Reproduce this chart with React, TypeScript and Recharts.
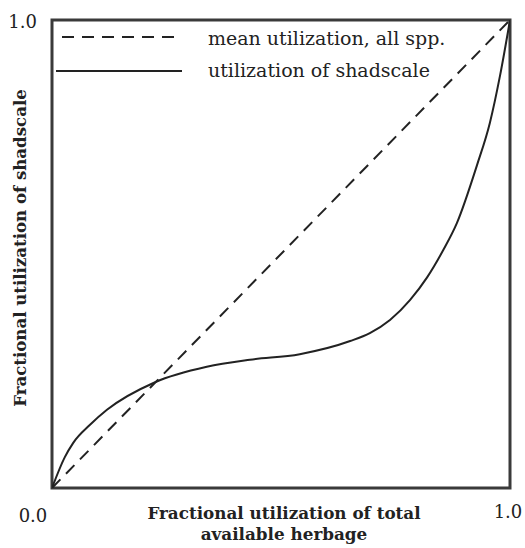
import { LineChart, Line, XAxis, YAxis, ReferenceArea, Legend, Label } from "recharts";

// fraction of total herbage used (x) vs fraction of shadscale used (y)
const herbage = [0, 0.028, 0.046, 0.083, 0.12, 0.225, 0.338, 0.432, 0.541, 0.651, 0.694, 0.738, 0.782, 0.819, 0.854, 0.884, 0.928, 0.956, 0.978, 1];
const shadscale = [0, 0.066, 0.096, 0.135, 0.167, 0.226, 0.259, 0.274, 0.286, 0.314, 0.331, 0.359, 0.402, 0.45, 0.508, 0.566, 0.69, 0.78, 0.88, 1];
const meanX = [0, 1];
const meanY = [0, 1];
const xTicks = [0, 1];
const yTicks = [1];
const legendLabels = ["mean utilization, all spp.", "utilization of shadscale"];

const shadData = herbage.map((x, i) => ({ x, y: shadscale[i] }));
const meanData = meanX.map((x, i) => ({ x, y: meanY[i] }));

const FONT = "'DejaVu Serif', serif";
const INK = "#222";

const XTick = (props: any) => {
  const { x, y, payload } = props;
  const first = payload.value === 0;
  return (
    <text x={first ? x - 19 : x - 2} y={first ? y + 26 : y + 22} textAnchor="middle" fontFamily={FONT} fontSize={18} fill={INK}>
      {payload.value.toFixed(1)}
    </text>
  );
};

const YTick = (props: any) => {
  const { x, y, payload } = props;
  return (
    <text x={x - 7} y={y + 8} textAnchor="end" fontFamily={FONT} fontSize={18} fill={INK}>
      {payload.value.toFixed(1)}
    </text>
  );
};

const LegendBox = () => (
  <svg width={480} height={90} style={{ display: "block" }}>
    <line x1={62} x2={182} y1={37} y2={37} stroke={INK} strokeWidth={2} strokeDasharray="12 8" />
    <line x1={56} x2={182} y1={71} y2={71} stroke={INK} strokeWidth={2} />
    <text x={208} y={45} fontFamily={FONT} fontSize={19} fill={INK}>{legendLabels[0]}</text>
    <text x={208} y={77} fontFamily={FONT} fontSize={19} fill={INK}>{legendLabels[1]}</text>
  </svg>
);

export default function App() {
  return (
    <div style={{ position: "absolute", top: 0, left: 0 }}>
      <LineChart width={525} height={548} margin={{ top: 20, right: 15, left: 0, bottom: 0 }}>
        <XAxis
          dataKey="x"
          type="number"
          domain={[0, 1]}
          ticks={xTicks}
          tick={<XTick />}
          tickLine={false}
          axisLine={false}
          height={60}
          allowDataOverflow
        >
          <Label
            content={({ viewBox }: any) => {
              const cx = viewBox.x + viewBox.width / 2 + 3;
              return (
                <text textAnchor="middle" fontFamily={FONT} fontSize={16.8} fontWeight="bold" fill={INK}>
                  <tspan x={cx} y={viewBox.y + 31}>Fractional utilization of total</tspan>
                  <tspan x={cx} y={viewBox.y + 52}>available herbage</tspan>
                </text>
              );
            }}
          />
        </XAxis>
        <YAxis
          type="number"
          domain={[0, 1]}
          ticks={yTicks}
          tick={<YTick />}
          tickLine={false}
          axisLine={false}
          width={52}
          allowDataOverflow
        >
          <Label
            content={() => (
              <text
                x={20}
                y={248}
                transform="rotate(-90 20 248)"
                textAnchor="middle"
                dominantBaseline="central"
                fontFamily={FONT}
                fontSize={16.6}
                fontWeight="bold"
                fill={INK}
              >
                Fractional utilization of shadscale
              </text>
            )}
          />
        </YAxis>
        <Legend
          layout="horizontal"
          verticalAlign="middle"
          align="center"
          wrapperStyle={{ top: 0, left: 0, width: 480 }}
          content={<LegendBox />}
        />
        <Line
          data={meanData}
          dataKey="y"
          type="linear"
          stroke={INK}
          strokeWidth={2}
          strokeDasharray="12 8"
          dot={false}
          isAnimationActive={false}
        />
        <Line
          data={shadData}
          dataKey="y"
          type="monotone"
          stroke={INK}
          strokeWidth={2}
          dot={false}
          isAnimationActive={false}
        />
        <ReferenceArea x1={0} x2={1} y1={0} y2={1} fill="none" stroke="#3a3a3a" strokeWidth={3} ifOverflow="visible" />
      </LineChart>
    </div>
  );
}
